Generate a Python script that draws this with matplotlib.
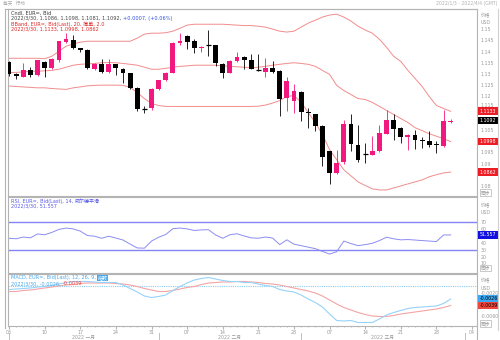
import numpy as np
import matplotlib.pyplot as plt
import matplotlib.transforms as mtransforms
from matplotlib.patches import Rectangle
from matplotlib.lines import Line2D

plt.rcParams['font.family'] = ['DejaVu Sans', 'Noto Sans CJK SC']

# EUR= daily candles, 2022/1/3 - 2022/3/30 (trading days)
opens = [1.1355, 1.1301, 1.1288, 1.1316, 1.1295, 1.1355, 1.1325, 1.1363, 1.1443, 1.1452,
         1.1415, 1.1407, 1.1321, 1.1343, 1.1310, 1.1343, 1.1324, 1.1303, 1.1238, 1.1146,
         1.1149, 1.1235, 1.1271, 1.1306, 1.1437, 1.1470, 1.1445, 1.1415, 1.1431, 1.1428,
         1.1346, 1.1306, 1.1358, 1.1376, 1.1361, 1.1318, 1.1310, 1.1325, 1.1313, 1.1194,
         1.1178, 1.1219, 1.1128, 1.1119, 1.1069, 1.0954, 1.0857, 1.0905, 1.1077, 1.0984,
         1.0945, 1.0939, 1.0954, 1.1033, 1.1093, 1.1059, 1.1019, 1.1026, 1.1007, 1.0999,
         1.0987, 1.0980, 1.1086]
highs = [1.1358, 1.1305, 1.1351, 1.1333, 1.1364, 1.1360, 1.1370, 1.1448, 1.1482, 1.1475,
         1.1418, 1.1410, 1.1350, 1.1365, 1.1365, 1.1346, 1.1326, 1.1306, 1.1240, 1.1156,
         1.1238, 1.1274, 1.1310, 1.1442, 1.1485, 1.1474, 1.1455, 1.1425, 1.1496, 1.1430,
         1.1350, 1.1362, 1.1398, 1.1380, 1.1391, 1.1391, 1.1369, 1.1358, 1.1316, 1.1285,
         1.1256, 1.1222, 1.1150, 1.1122, 1.1072, 1.0957, 1.0962, 1.1096, 1.1119, 1.1074,
         1.0992, 1.1024, 1.1071, 1.1141, 1.1123, 1.1062, 1.1032, 1.1049, 1.1019, 1.1044,
         1.0999, 1.1141, 1.1098]
lows = [1.1292, 1.1279, 1.1285, 1.1288, 1.1292, 1.1288, 1.1320, 1.1353, 1.1440, 1.1410,
        1.1397, 1.1321, 1.1318, 1.1303, 1.1306, 1.1294, 1.1261, 1.1235, 1.1135, 1.1126,
        1.1140, 1.1230, 1.1268, 1.1303, 1.1430, 1.1413, 1.1395, 1.1398, 1.1380, 1.1335,
        1.1283, 1.1303, 1.1355, 1.1324, 1.1321, 1.1312, 1.1288, 1.1305, 1.1111, 1.1135,
        1.1126, 1.1092, 1.1059, 1.1044, 1.0887, 1.0809, 1.0853, 1.0900, 1.0954, 1.0905,
        1.0902, 1.0936, 1.0950, 1.1030, 1.1007, 1.0992, 1.0962, 1.0965, 1.0970, 1.0974,
        1.0947, 1.0975, 1.1081]
closes = [1.1298, 1.1289, 1.1317, 1.1294, 1.1361, 1.1325, 1.1365, 1.1445, 1.1455, 1.1418,
          1.1407, 1.1325, 1.1343, 1.1310, 1.1343, 1.1325, 1.1303, 1.1238, 1.1144, 1.1144,
          1.1235, 1.1271, 1.1306, 1.1440, 1.1448, 1.1443, 1.1418, 1.1422, 1.1429, 1.1351,
          1.1306, 1.1358, 1.1376, 1.1362, 1.1324, 1.1316, 1.1325, 1.1310, 1.1190, 1.1268,
          1.1223, 1.1129, 1.1125, 1.1066, 1.0929, 1.0857, 1.0902, 1.1078, 1.0988, 1.0914,
          1.0944, 1.0954, 1.1037, 1.1093, 1.1055, 1.1019, 1.1029, 1.1007, 1.0999, 1.0984,
          1.0981, 1.1089, 1.1092]

# Bollinger (20, 2.0)
bb_upper = [1.1370, 1.1370, 1.1370, 1.1370, 1.1370, 1.1368, 1.1379, 1.1401, 1.1424, 1.1433,
            1.1442, 1.1446, 1.1446, 1.1446, 1.1446, 1.1446, 1.1446, 1.1446, 1.1460, 1.1478,
            1.1482, 1.1482, 1.1484, 1.1491, 1.1504, 1.1518, 1.1522, 1.1522, 1.1522, 1.1522,
            1.1522, 1.1520, 1.1518, 1.1516, 1.1516, 1.1513, 1.1509, 1.1500, 1.1491, 1.1487,
            1.1491, 1.1509, 1.1527, 1.1540, 1.1554, 1.1563, 1.1567, 1.1554, 1.1536, 1.1513,
            1.1496, 1.1482, 1.1455, 1.1419, 1.1379, 1.1356, 1.1316, 1.1280, 1.1244, 1.1199,
            1.1159, 1.1146, 1.1133]
bb_mid = [1.1306, 1.1307, 1.1309, 1.1312, 1.1312, 1.1314, 1.1316, 1.1321, 1.1330, 1.1339,
          1.1343, 1.1345, 1.1347, 1.1350, 1.1351, 1.1350, 1.1347, 1.1343, 1.1339, 1.1330,
          1.1321, 1.1321, 1.1325, 1.1330, 1.1334, 1.1336, 1.1339, 1.1339, 1.1339, 1.1339,
          1.1336, 1.1334, 1.1332, 1.1330, 1.1327, 1.1330, 1.1334, 1.1339, 1.1343, 1.1347,
          1.1350, 1.1347, 1.1343, 1.1334, 1.1316, 1.1298, 1.1249, 1.1226, 1.1208, 1.1190,
          1.1186, 1.1173, 1.1155, 1.1137, 1.1119, 1.1101, 1.1083, 1.1060, 1.1047, 1.1033,
          1.1022, 1.1011, 1.0998]
bb_lower = [1.1246, 1.1244, 1.1242, 1.1240, 1.1238, 1.1238, 1.1235, 1.1233, 1.1231, 1.1238,
            1.1242, 1.1247, 1.1249, 1.1250, 1.1250, 1.1250, 1.1249, 1.1240, 1.1217, 1.1190,
            1.1168, 1.1159, 1.1155, 1.1155, 1.1155, 1.1155, 1.1155, 1.1155, 1.1155, 1.1155,
            1.1155, 1.1155, 1.1155, 1.1155, 1.1155, 1.1156, 1.1161, 1.1170, 1.1181, 1.1199,
            1.1204, 1.1173, 1.1128, 1.1083, 1.1029, 1.0962, 1.0917, 1.0872, 1.0845, 1.0818,
            1.0802, 1.0787, 1.0782, 1.0782, 1.0791, 1.0800, 1.0809, 1.0818, 1.0827, 1.0841,
            1.0850, 1.0858, 1.0862]

# RSI 14
rsi = [46.7, 45.9, 48.5, 47.3, 53.0, 51.8, 55.2, 59.6, 61.6, 60.4,
       57.1, 50.7, 49.7, 46.7, 49.7, 47.0, 44.1, 38.1, 32.5, 32.2,
       42.6, 48.2, 52.2, 60.7, 61.6, 60.4, 58.1, 58.9, 59.2, 51.5,
       46.7, 51.8, 53.3, 50.0, 47.3, 46.7, 48.5, 47.0, 37.4, 44.4,
       38.1, 35.9, 33.7, 31.5, 27.5, 23.6, 27.0, 42.6, 38.9, 35.9,
       37.4, 39.3, 43.3, 48.2, 45.9, 44.4, 44.8, 44.1, 43.3, 42.6,
       41.9, 51.5, 51.557]

# MACD 12, 26, 9
macd = [-0.0007, -0.0006, -0.0005, -0.0004, -0.0002, -0.0001, 0.0001, 0.0004, 0.0007, 0.0009,
        0.0009, 0.0009, 0.0008, 0.0007, 0.0007, 0.0007, 0.0002, -0.0005, -0.0012, -0.0020,
        -0.0023, -0.0021, -0.0018, -0.0009, -0.0001, 0.0006, 0.0012, 0.0015, 0.0017, 0.0014,
        0.0011, 0.0009, 0.0009, 0.0007, 0.0007, 0.0004, 0.0001, -0.0001, -0.0007, -0.0010,
        -0.0012, -0.0018, -0.0026, -0.0033, -0.0042, -0.0056, -0.0069, -0.0070, -0.0069, -0.0073,
        -0.0073, -0.0073, -0.0066, -0.0058, -0.0053, -0.0049, -0.0045, -0.0043, -0.0042, -0.0041,
        -0.0040, -0.0035, -0.0026]
signal = [-0.0011, -0.0011, -0.0009, -0.0008, -0.0006, -0.0004, -0.0002, 0.0000, 0.0002, 0.0003,
          0.0005, 0.0006, 0.0006, 0.0006, 0.0006, 0.0005, 0.0004, 0.0002, -0.0001, -0.0005,
          -0.0008, -0.0011, -0.0011, -0.0009, -0.0006, -0.0003, -0.0001, 0.0003, 0.0006, 0.0007,
          0.0008, 0.0008, 0.0009, 0.0009, 0.0008, 0.0007, 0.0005, 0.0004, 0.0002, -0.0001,
          -0.0004, -0.0007, -0.0010, -0.0014, -0.0020, -0.0028, -0.0036, -0.0043, -0.0048, -0.0053,
          -0.0057, -0.0060, -0.0061, -0.0061, -0.0059, -0.0056, -0.0054, -0.0052, -0.0050, -0.0048,
          -0.0046, -0.0043, -0.0039]

# x axis: Monday labels (trading-day index) and month starts
week_pos = [0, 5, 10, 15, 20, 25, 30, 35, 40, 45, 50, 55, 60, 65]
week_labels = ['03', '10', '17', '24', '31', '07', '14', '21', '28', '07', '14', '21', '28', '04']
month_starts = [0, 21, 41, 64]
month_names = ['2022 一月', '2022 二月', '2022 三月']

price_ticks = [1.08, 1.09, 1.095, 1.105, 1.12, 1.125, 1.13, 1.135, 1.14, 1.145, 1.15]
rsi_ticks = [10, 20, 30, 40, 60, 70]
macd_ticks = [-0.006]

PINK = '#f2187f'
BAND = '#f28c8c'
RSI_C = '#8c8cf2'
GRID = '#b4b4b4'
LBL = '#9a9a9a'
FS = 3.6

W, H = 500, 340
fig = plt.figure(figsize=(5, 3.4), dpi=100)


def panel(top, bottom):
    return fig.add_axes([8 / W, (H - bottom) / H, 469 / W, (bottom - top) / H])


ax = panel(9, 196)
ax_r = panel(197, 273)
ax_m = panel(274, 326)

x = np.arange(len(closes))
xlim = (-0.15, 65.7)

for a in (ax, ax_r, ax_m):
    a.set_xlim(*xlim)
    for s in a.spines.values():
        s.set_color(GRID)
        s.set_linewidth(0.8)
    a.yaxis.tick_right()
    a.tick_params(axis='y', labelsize=3.4, labelcolor=LBL, length=0, pad=2.5)
    a.tick_params(axis='x', length=0, labelbottom=False)
    a.set_xticks(week_pos)
    a.set_xticks(x, minor=True)
    a.tick_params(axis='x', which='minor', length=0)

# candles
w = 0.68
for i in x:
    o, h, l, c = opens[i], highs[i], lows[i], closes[i]
    col = PINK if c > o else 'black'
    ax.vlines(i, l, h, color=col, lw=0.6, zorder=3)
    if abs(c - o) < 0.0002:
        ax.hlines((o + c) / 2, i - w / 2, i + w / 2, color=col, lw=0.9, zorder=3)
    else:
        ax.add_patch(Rectangle((i - w / 2, min(o, c)), w, abs(c - o), color=col, lw=0, zorder=3))

ax.plot(x, bb_upper, color=BAND, lw=0.7, zorder=2)
ax.plot(x, bb_mid, color=BAND, lw=0.7, zorder=2)
ax.plot(x, bb_lower, color=BAND, lw=0.7, zorder=2)
ax.set_ylim(1.0755, 1.1590)
ax.set_yticks(price_ticks)
ax.set_yticklabels(['%g' % t for t in price_ticks])

ax_r.plot(x, rsi, color=RSI_C, lw=0.7)
ax_r.axhline(70, color='#8484f4', lw=1.0)
ax_r.axhline(30, color='#8484f4', lw=1.0)
ax_r.set_ylim(-4.1, 107)
ax_r.set_yticks(rsi_ticks)
ax_r.set_yticklabels([str(t) for t in rsi_ticks])

ax_m.axhline(0, color='#8ccaf2', lw=0.8, ls=(0, (1, 1)))
ax_m.plot(x, signal, color='#f4a4a4', lw=0.8)
ax_m.plot(x, macd, color='#96d2fa', lw=0.8)
ax_m.set_ylim(-0.0080, 0.0024)
ax_m.set_yticks(macd_ticks)
ax_m.set_yticklabels(['%.4f' % t for t in macd_ticks])

# x axis labels
ax_m.tick_params(axis='x', which='major', length=2, color=GRID, labelbottom=True,
                 labelsize=3.4, labelcolor=LBL, pad=1)
ax_m.tick_params(axis='x', which='minor', length=1, color=GRID)
ax_m.set_xticklabels(week_labels)
tb = mtransforms.blended_transform_factory(ax_m.transData, ax_m.transAxes)
for k, name in enumerate(month_names):
    mid = (month_starts[k] + month_starts[k + 1]) / 2
    ax_m.text(mid, -0.22, name, transform=tb, fontsize=3.4, color=LBL,
              ha='center', va='center', clip_on=False)
for m in month_starts:
    ax_m.plot([m, m], [-0.14, -0.27], transform=tb, color=GRID, lw=0.6, clip_on=False)


def parts_line(a, y, parts):
    s, c, kw = parts[0]
    t = a.text(0.007, y, s, color=c, fontsize=FS, transform=a.transAxes,
               ha='left', va='top', **kw)
    for s, c, kw in parts[1:]:
        t = a.annotate(s, xy=(1, 0), xycoords=t, color=c, fontsize=FS,
                       ha='left', va='bottom', **kw)


def frac(a, top, bottom, ypix):
    return 1 - (ypix - top) / (bottom - top)


parts_line(ax, frac(ax, 9, 196, 10.5), [('Cndl, EUR=, Bid', '#333333', {})])
parts_line(ax, frac(ax, 9, 196, 16), [('2022/3/30, 1.1086, 1.1098, 1.1081, 1.1092, ', '#444444', {}),
                                      ('+0.0007, (+0.06%)', '#3050e0', {})])
parts_line(ax, frac(ax, 9, 196, 21.5), [('BBand, EUR=, Bid(Last), 20, 简单, 2.0', '#e02828', {})])
parts_line(ax, frac(ax, 9, 196, 27), [('2022/3/30, 1.1133, 1.0998, 1.0862', '#e02828', {})])

parts_line(ax_r, frac(ax_r, 197, 273, 198.5), [('RSI, EUR=, Bid(Last), 14, ', '#5a5ae6', {}),
                                               ('威尔德平滑', '#5a5ae6', {})])
parts_line(ax_r, frac(ax_r, 197, 273, 204), [('2022/3/30, 51.557', '#5a5ae6', {})])

parts_line(ax_m, frac(ax_m, 274, 326, 275.5), [('MACD, EUR=, Bid(Last), 12, 26, 9, ', '#46a8ee', {}),
                                               ('指数', 'white', dict(bbox=dict(boxstyle='square,pad=0.1', fc='#46a8ee', ec='none')))])
parts_line(ax_m, frac(ax_m, 274, 326, 281), [('2022/3/30, -0.0026, ', '#46a8ee', {}),
                                             ('-0.0039', '#f04040', {})])


def right_box(a, val, s, fc, tc='white'):
    tr = mtransforms.blended_transform_factory(a.transAxes, a.transData)
    a.text(1.006, val, s, transform=tr, fontsize=3.4, color=tc, ha='left', va='center',
           clip_on=False, bbox=dict(boxstyle='square,pad=0.3', fc=fc, ec='none'))


def right_note(a, ypix, top, bottom, s, boxed=False):
    kw = dict(bbox=dict(boxstyle='square,pad=0.2', fc='white', ec=GRID, lw=0.5)) if boxed else {}
    a.text(1.008, frac(a, top, bottom, ypix), s, transform=a.transAxes, fontsize=3.4,
           color=LBL, ha='left', va='center', clip_on=False, **kw)


right_box(ax, bb_upper[-1], '1.1133', '#ec1c24')
right_box(ax, closes[-1], '1.1092', 'black')
right_box(ax, bb_mid[-1], '1.0998', '#ec1c24')
right_box(ax, bb_lower[-1], '1.0862', '#ec1c24')
right_note(ax, 16, 9, 196, '价格')
right_note(ax, 23, 9, 196, 'USD')
right_note(ax, 105.5, 9, 196, '1.115')
right_note(ax, 192.5, 9, 196, '同步', boxed=True)

right_box(ax_r, rsi[-1], '51.557', '#1010e0')
right_note(ax_r, 206, 197, 273, '价格')
right_note(ax_r, 213, 197, 273, 'USD')
right_note(ax_r, 268, 197, 273, '同步', boxed=True)

right_box(ax_m, macd[-1], '-0.0026', '#3ca8f4', 'black')
right_box(ax_m, signal[-1], '-0.0039', '#f0463c', 'black')
right_note(ax_m, 281, 274, 326, '价格')
right_note(ax_m, 288, 274, 326, 'USD')
right_note(ax_m, 293.5, 274, 326, '-0.0020')
right_note(ax_m, 323.5, 274, 326, '同步', boxed=True)

# header strip and outer frame
fig.text(3 / W, 1 - 4 / H, '每天  行动', fontsize=3.4, color='#aaaaaa', ha='left', va='center')
fig.text(497 / W, 1 - 4 / H, '2022/1/3 - 2022/4/4 (GMT)', fontsize=3.3, color='#b0b0b0',
         ha='right', va='center')
fig.add_artist(Line2D([5 / W, 5 / W], [1 - 9 / H, 1 - 328 / H], color=GRID, lw=0.8))
fig.add_artist(Line2D([5 / W, 477 / W], [1 - 9 / H, 1 - 9 / H], color=GRID, lw=0.8))
fig.add_artist(Line2D([477 / W, 477 / W], [1 - 326 / H, 1 - 340 / H], color=GRID, lw=0.8))
fig.add_artist(Line2D([498 / W, 498 / W], [1 - 9 / H, 1 - 330 / H], color='#d0d0d0', lw=0.8))

fig.savefig('out.png', dpi=100)
